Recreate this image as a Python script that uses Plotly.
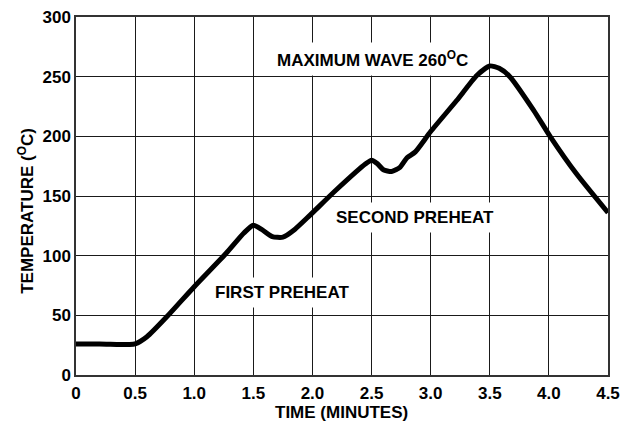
import plotly.graph_objects as go

time_min = [0.0, 0.2, 0.45, 0.5, 0.6, 0.77, 1.0, 1.27, 1.42, 1.5, 1.57, 1.66, 1.75, 1.85, 1.98, 2.2, 2.45, 2.5, 2.55, 2.6, 2.67, 2.74, 2.8, 2.87, 3.0, 3.22, 3.39, 3.5, 3.58, 3.67, 3.87, 4.01, 4.23, 4.5]
temp_c = [26, 26, 25.5, 26, 32, 49, 74, 102, 119, 125.5, 122, 116, 115.5, 122, 134, 155, 177, 180, 177, 172, 170.5, 174, 182, 187, 204, 230, 251, 259, 257, 250, 222, 200, 169, 136]

x_ticks = [0, 0.5, 1.0, 1.5, 2.0, 2.5, 3.0, 3.5, 4.0, 4.5]
x_tick_labels = ["0", "0.5", "1.0", "1.5", "2.0", "2.5", "3.0", "3.5", "4.0", "4.5"]
y_ticks = [0, 50, 100, 150, 200, 250, 300]

labels = ["MAXIMUM WAVE 260<sup>O</sup>C", "SECOND PREHEAT", "FIRST PREHEAT"]
label_x = [2.51, 2.868, 1.74]
label_y = [265, 132, 69.3]

x_title = "TIME (MINUTES)"
y_title = "TEMPERATURE (<sup>O</sup>C)"

FONT = "Liberation Sans, Arial, Helvetica, sans-serif"
FS = 17

fig = go.Figure()
fig.add_trace(go.Scatter(
    x=time_min, y=temp_c, mode="lines",
    line=dict(color="black", width=5, shape="spline", smoothing=0.6),
    hoverinfo="skip", showlegend=False,
))

for t, lx, ly in zip(labels, label_x, label_y):
    fig.add_annotation(
        x=lx, y=ly, text=t, showarrow=False,
        font=dict(family=FONT, size=FS, color="black", weight="bold"),
        bgcolor="white", borderpad=5,
    )

# axis titles
fig.add_annotation(
    x=2.242, xref="x", y=-0.106, yref="paper", text=x_title, showarrow=False,
    xanchor="center", yanchor="middle",
    font=dict(family=FONT, size=FS, color="black", weight="bold"),
)
fig.add_annotation(
    x=-0.0945, xref="paper", y=137.4, yref="y", text=y_title, showarrow=False,
    textangle=-90, xanchor="center", yanchor="middle",
    font=dict(family=FONT, size=FS, color="black", weight="bold"),
)

axis_common = dict(
    showgrid=True, gridcolor="#1a1a1a", gridwidth=1,
    showline=True, linecolor="#333333", linewidth=1.5, mirror=True,
    zeroline=False, automargin=False, ticklabeloverflow="allow",
    tickfont=dict(family=FONT, size=FS, color="black", weight="bold"),
)

fig.update_xaxes(range=[0, 4.5], tickvals=x_ticks, ticktext=x_tick_labels,
                 ticks="outside", ticklen=2, tickcolor="rgba(0,0,0,0)", **axis_common)
fig.update_yaxes(range=[0, 300], tickvals=y_ticks, ticks="", **axis_common)

fig.update_layout(
    width=622, height=422,
    margin=dict(l=68, r=22, t=9, b=55),
    paper_bgcolor="white", plot_bgcolor="white",
    showlegend=False,
)

fig.write_html("out.html")
